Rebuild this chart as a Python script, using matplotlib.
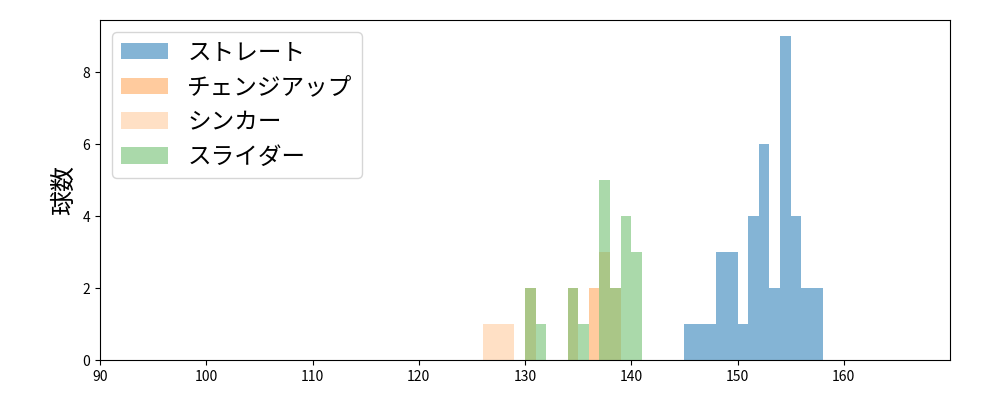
import matplotlib
matplotlib.use("Agg")
import matplotlib.pyplot as plt

plt.rcParams['font.family'] = ['Noto Sans CJK JP', 'DejaVu Sans']

# bin left edges (width 1 km/h) and counts per pitch type
straight_bins = [145, 146, 147, 148, 149, 150, 151, 152, 153, 154, 155, 156, 157]
straight_cnt = [1, 1, 1, 3, 3, 1, 4, 6, 2, 9, 4, 2, 2]

changeup_bins = [136]
changeup_cnt = [2]

sinker_bins = [126, 127, 128, 130, 134, 137, 138]
sinker_cnt = [1, 1, 1, 2, 2, 3, 2]

slider_bins = [130, 131, 134, 135, 137, 138, 139, 140]
slider_cnt = [2, 1, 2, 1, 5, 2, 4, 3]

labels = ['ストレート', 'チェンジアップ', 'シンカー', 'スライダー']

fig, ax = plt.subplots(figsize=(10, 4), dpi=100)
fig.subplots_adjust(left=0.1, right=0.95, bottom=0.1, top=0.95)

ax.bar(straight_bins, straight_cnt, width=1, align='edge', color='#1f77b4', alpha=0.55, label=labels[0])
ax.bar(changeup_bins, changeup_cnt, width=1, align='edge', color='#ff7f0e', alpha=0.4, label=labels[1])
ax.bar(sinker_bins, sinker_cnt, width=1, align='edge', color='#ff7f0e', alpha=0.24, label=labels[2])
ax.bar(slider_bins, slider_cnt, width=1, align='edge', color='#2ca02c', alpha=0.4, label=labels[3])

ax.set_xlim(90, 170)
ax.set_ylim(0, 9.45)
ax.set_xticks(range(90, 170, 10))
ax.set_ylabel('球数', fontsize=18)
ax.legend(loc='upper left', fontsize=17)

fig.savefig('out.png')
